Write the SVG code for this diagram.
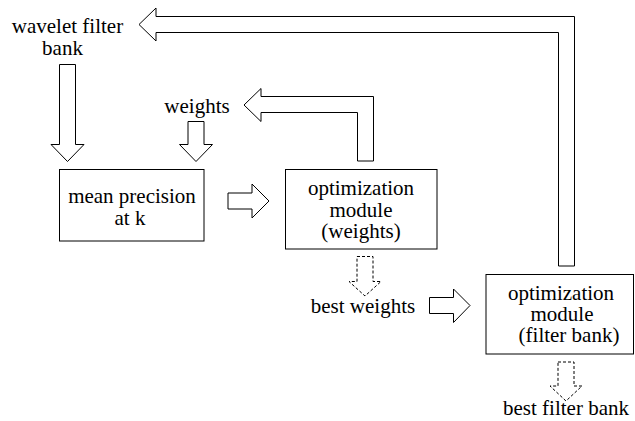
<svg xmlns="http://www.w3.org/2000/svg" width="635" height="421" viewBox="0 0 635 421">
<style>
.box{fill:#fff;stroke:#000;stroke-width:1}
.arr{fill:#fff;stroke:#000;stroke-width:1;stroke-linejoin:miter}
.dash{fill:#fff;stroke:#000;stroke-width:1;stroke-dasharray:3,2}
</style>
<rect width="635" height="421" fill="#fff"/>
<g id="connectors">
<polygon class="arr" points="139,24.5 156,8 156,16.5 574.5,16.5 574.5,266 558.5,266 558.5,32.5 156,32.5 156,41"/>
<polygon class="arr" points="244,105 261,88.5 261,96.5 373.5,96.5 373.5,161 357.5,161 357.5,112.5 261,112.5 261,121.5"/>
<polygon class="arr" points="59.5,64.5 75.5,64.5 75.5,144.5 84,144.5 67.5,161.5 51,144.5 59.5,144.5"/>
<polygon class="arr" points="188,121.5 204,121.5 204,144.5 212.5,144.5 196,161.5 179.5,144.5 188,144.5"/>
<polygon class="arr" points="228,193 252,193 252,184 269,201 252,218 252,209 228,209"/>
<polygon class="dash" points="357,256.5 373,256.5 373,281.5 381,281.5 365,296 349,281.5 357,281.5"/>
<polygon class="arr" points="429.5,297.5 453.5,297.5 453.5,289 470,305.5 453.5,322.5 453.5,313.5 429.5,313.5"/>
<polygon class="dash" points="558,362 574,362 574,386 582,386 566,401 550,386 558,386"/>
</g>
<g font-family="'Liberation Serif', 'DejaVu Serif', serif" font-size="21" text-anchor="middle" fill="#000">
<g id="wavelet-filter-bank">
<text x="67.5" y="33">wavelet filter</text>
<text x="62.5" y="55">bank</text>
</g>
<g id="weights-input">
<text x="197" y="113">weights</text>
</g>
<g id="mean-precision">
<rect class="box" x="59.5" y="169.5" width="144.5" height="71.5"/>
<text x="132" y="203">mean precision</text>
<text x="130" y="225">at k</text>
</g>
<g id="opt-weights">
<rect class="box" x="285.5" y="169.5" width="151.5" height="79.5"/>
<text x="361" y="195">optimization</text>
<text x="361" y="216.5">module</text>
<text x="361" y="238">(weights)</text>
</g>
<g id="best-weights">
<text x="363" y="312.5">best weights</text>
</g>
<g id="opt-filter-bank">
<rect class="box" x="486" y="274.5" width="147.5" height="79.5"/>
<text x="561" y="299.5">optimization</text>
<text x="562" y="321">module</text>
<text x="569" y="342">(filter bank)</text>
</g>
<g id="best-filter-bank">
<text x="566" y="415">best filter bank</text>
</g>
</g>
</svg>
